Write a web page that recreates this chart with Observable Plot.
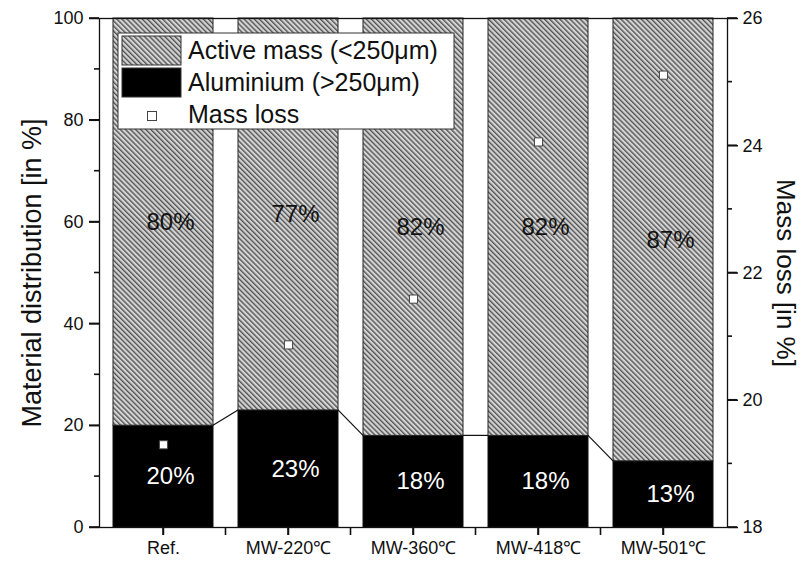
<!DOCTYPE html>
<html>
<head>
<meta charset="utf-8">
<script src="https://cdn.jsdelivr.net/npm/d3@7"></script>
<script src="https://cdn.jsdelivr.net/npm/@observablehq/plot@0.6"></script>
<style>
  html, body { margin: 0; padding: 0; background: #fff; }
  #chart svg { display: block; }
</style>
</head>
<body>
<div id="chart"></div>
<script>
// Samples and their material split after sieving
const categories = ["Ref.", "MW-220\u2103", "MW-360\u2103", "MW-418\u2103", "MW-501\u2103"];
const aluminium = [20, 23, 18, 18, 13];   // % > 250 µm
const activeMass = [80, 77, 82, 82, 87];  // % < 250 µm
const massLoss = [19.30, 20.87, 21.59, 24.06, 25.11]; // % (right axis)

const leftTicks = [0, 20, 40, 60, 80, 100];
const leftMinorTicks = [10, 30, 50, 70, 90];
const rightTicks = [18, 20, 22, 24, 26];
const rightMinorTicks = [19, 21, 23, 25];
const legendLabels = ["Active mass (<250\u03bcm)", "Aluminium (>250\u03bcm)", "Mass loss"];
const leftTitle = "Material distribution [in %]";
const rightTitle = "Mass loss [in %]";

const lossMin = 18, lossMax = 26;
const toLeft = v => (v - lossMin) / (lossMax - lossMin) * 100;

const rows = categories.map((c, i) => ({
  category: c, al: aluminium[i], active: activeMass[i], loss: massLoss[i]
}));

const FONT = "'Liberation Sans', Arial, Helvetica, sans-serif";
const INK = "#111";
const MARGIN = { top: 18, right: 79, bottom: 38, left: 99 };
const W = 806, H = 565;

// Lines joining the aluminium tops of neighbouring columns
function connectors(index, scales) {
  const x = scales.x, y = scales.y;
  const bw = typeof x.bandwidth === "function" ? x.bandwidth() : scales.scales.x.bandwidth;
  const g = d3.create("svg:g");
  for (let i = 0; i < rows.length - 1; i++) {
    g.append("line")
      .attr("x1", x(rows[i].category) + bw).attr("y1", y(rows[i].al))
      .attr("x2", x(rows[i + 1].category)).attr("y2", y(rows[i + 1].al))
      .attr("stroke", INK).attr("stroke-width", 1.2);
  }
  return g.node();
}

const chart = Plot.plot({
  width: W,
  height: H,
  marginLeft: MARGIN.left,
  marginRight: MARGIN.right,
  marginTop: MARGIN.top,
  marginBottom: MARGIN.bottom,
  style: { fontFamily: FONT, background: "#fff", color: INK, overflow: "visible" },
  x: { domain: categories, paddingInner: 0.2, paddingOuter: 0.1, axis: null },
  y: { domain: [0, 100], axis: null },
  marks: [
    Plot.barY(rows, { x: "category", y1: 0, y2: "al", fill: "#000", stroke: INK, strokeWidth: 1 }),
    Plot.barY(rows, { x: "category", y1: "al", y2: d => d.al + d.active, fill: "url(#hatch)", stroke: "#222", strokeWidth: 1 }),
    connectors,
    Plot.text(rows, { x: "category", y: d => d.al / 2, text: d => `${d.al}%`, fill: "#fff", fontSize: 24, dx: 7 }),
    Plot.text(rows, { x: "category", y: d => d.al + d.active / 2, text: d => `${d.active}%`, fill: INK, fontSize: 24, dx: 7 }),
    Plot.dot(rows, { x: "category", y: d => toLeft(d.loss), symbol: "square", r: 4.6, fill: "#fff", stroke: "#444", strokeWidth: 1 }),
    Plot.frame({ stroke: INK, strokeWidth: 1.3 }),
    // tick labels; the tick strokes are drawn as small filled bars below
    Plot.axisY(leftTicks, { anchor: "left", tickSize: 10, tickPadding: 6, fontSize: 18, label: null, stroke: INK, strokeWidth: 1.5 }),
    Plot.axisY(rightTicks.map(toLeft), { anchor: "right", tickSize: 10, tickPadding: 5, fontSize: 18, label: null, stroke: INK, strokeWidth: 1.5,
      tickFormat: d => String(Math.round(lossMin + d * (lossMax - lossMin) / 100)) }),
    Plot.axisX({ tickSize: 8, tickPadding: 6, fontSize: 18, label: null, stroke: INK, strokeWidth: 1.5 }),
    // axis titles
    Plot.text([leftTitle], { frameAnchor: "left", dx: -67, rotate: -90, textAnchor: "middle", fontSize: 27, fill: INK }),
    Plot.text([rightTitle], { frameAnchor: "right", dx: 58, rotate: 90, textAnchor: "middle", fontSize: 26, fill: INK })
  ]
});

document.getElementById("chart").appendChild(chart);
const svg = d3.select(chart);

// Hatch pattern for the active-mass columns
const defs = svg.insert("defs", ":first-child");
const pat = defs.append("pattern")
  .attr("id", "hatch").attr("patternUnits", "userSpaceOnUse")
  .attr("width", 3.6).attr("height", 3.6)
  .attr("patternTransform", "rotate(-45)");
pat.append("rect").attr("width", 3.6).attr("height", 3.6).attr("fill", "#d4d4d4");
pat.append("line").attr("x1", 0.7).attr("y1", -1).attr("x2", 0.7).attr("y2", 5)
  .attr("stroke", "#4a4a4a").attr("stroke-width", 1.3);

// Tick marks on all three axes as filled bars, placed with the plot's own scales
const xs = chart.scale("x"), ys = chart.scale("y");
const left = MARGIN.left, right = W - MARGIN.right, bottom = H - MARGIN.bottom;
const TW = 1.6;
const tk = svg.append("g").attr("fill", INK).attr("stroke", "none");
const hTick = (x0, len, v) => tk.append("rect")
  .attr("x", x0).attr("width", len)
  .attr("y", ys.apply(v) - TW / 2).attr("height", TW);
const vTick = xc => tk.append("rect")
  .attr("x", xc - TW / 2).attr("width", TW)
  .attr("y", bottom).attr("height", 8);
leftTicks.forEach(v => hTick(left - 10, 10, v));
leftMinorTicks.forEach(v => hTick(left - 5, 5, v));
rightTicks.forEach(v => hTick(right, 10, toLeft(v)));
rightMinorTicks.forEach(v => hTick(right, 5, toLeft(v)));
categories.forEach((c, i) => {
  vTick(xs.apply(c) + xs.bandwidth / 2);
  if (i < categories.length - 1) {
    vTick(xs.apply(c) + xs.bandwidth + (xs.step - xs.bandwidth) / 2);
  }
});

// Legend box inside the plot area
const lg = svg.append("g")
  .attr("font-family", FONT).attr("font-size", 25).attr("fill", INK).attr("text-anchor", "start");
lg.append("rect").attr("x", 118).attr("y", 33).attr("width", 336).attr("height", 96)
  .attr("fill", "#fff").attr("stroke", "#333").attr("stroke-width", 1);
lg.append("rect").attr("x", 122).attr("y", 36).attr("width", 59).attr("height", 29)
  .attr("fill", "url(#hatch)").attr("stroke", "#333");
lg.append("rect").attr("x", 122).attr("y", 68).attr("width", 59).attr("height", 29)
  .attr("fill", "#000").attr("stroke", "#333");
lg.append("rect").attr("x", 147.5).attr("y", 111.5).attr("width", 9).attr("height", 9)
  .attr("fill", "#fff").attr("stroke", "#444");
legendLabels.forEach((t, i) => {
  lg.append("text").attr("x", 188).attr("y", 59 + i * 32).attr("text-anchor", "start").text(t);
});
</script>
</body>
</html>
